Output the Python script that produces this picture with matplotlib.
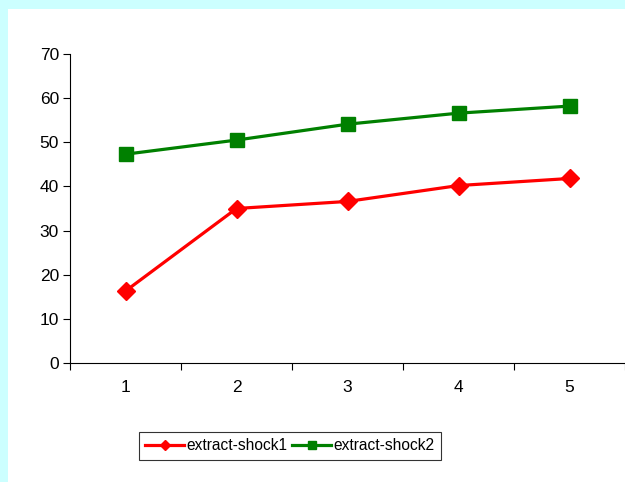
import matplotlib.pyplot as plt
from matplotlib.patches import Rectangle

plt.rcParams['font.family'] = ['Liberation Sans', 'DejaVu Sans']

categories = [1, 2, 3, 4, 5]
shock1 = [16.3, 35.0, 36.6, 40.2, 41.8]
shock2 = [47.3, 50.5, 54.1, 56.6, 58.2]

fig = plt.figure(figsize=(6.25, 4.82), dpi=100)
fig.patch.set_facecolor('#CCFFFF')
fig.patches.append(Rectangle((8 / 625, 0), 1, 1 - 9 / 482, transform=fig.transFigure,
                             facecolor='white', edgecolor='none', zorder=-10))

ax = fig.add_axes([70 / 625, 1 - 363 / 482, 1 - 70 / 625, (363 - 54) / 482])
ax.set_facecolor('none')

ax.plot(categories, shock1, color='#FF0000', lw=2.3, marker='D', ms=9,
        label='extract-shock1', clip_on=False)
ax.plot(categories, shock2, color='#008000', lw=2.3, marker='s', ms=10,
        label='extract-shock2', clip_on=False)

ax.set_xlim(0.5, 5.5)
ax.set_ylim(0, 70)
ax.set_yticks(range(0, 71, 10))
ax.set_xticks([0.5, 1.5, 2.5, 3.5, 4.5, 5.5])
ax.set_xticklabels([])
ax.set_xticks(categories, minor=True)
ax.set_xticklabels([str(c) for c in categories], minor=True)
ax.tick_params(axis='x', which='major', direction='out', length=5, width=0.8)
ax.tick_params(axis='x', which='minor', length=0, pad=12, labelsize=12.5)
ax.tick_params(axis='y', direction='out', length=5, width=0.8, labelsize=12.5, pad=3)

for s in ['top', 'right']:
    ax.spines[s].set_visible(False)
for s in ['left', 'bottom']:
    ax.spines[s].set_linewidth(0.8)

leg = ax.legend(loc='center', bbox_to_anchor=(290 / 625, 1 - 446 / 482),
                bbox_transform=fig.transFigure, ncol=2, frameon=True, fancybox=False,
                edgecolor='black', fontsize=11.2, handlelength=2.5, handletextpad=0.15,
                columnspacing=0.3, borderpad=0.4, markerscale=0.6)
leg.get_frame().set_linewidth(0.8)

fig.savefig('out.png', dpi=100, facecolor=fig.get_facecolor())
